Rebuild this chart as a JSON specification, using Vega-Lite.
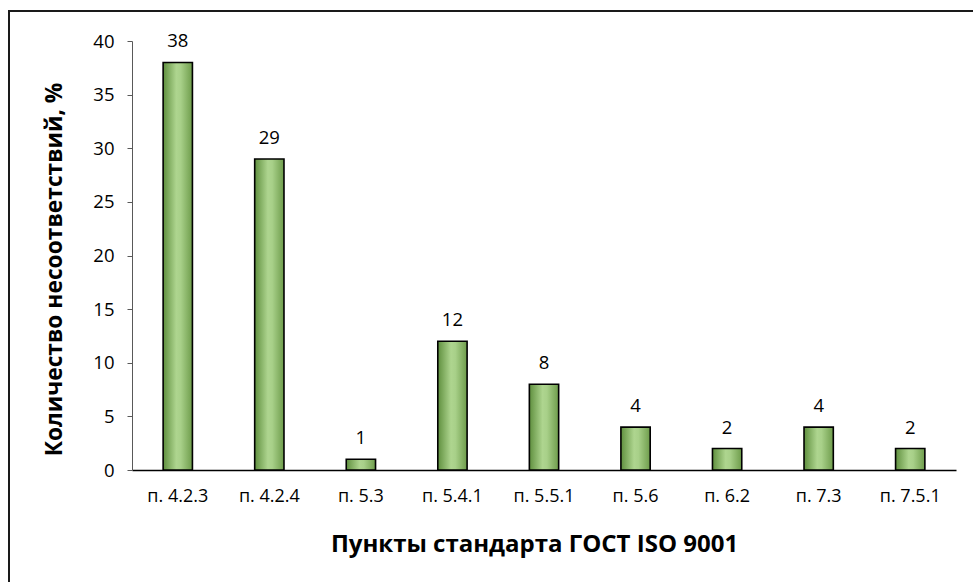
{
  "$schema": "https://vega.github.io/schema/vega-lite/v6.json",
  "width": 975,
  "height": 582,
  "autosize": "none",
  "padding": {"left": 9, "top": 11, "right": 0, "bottom": 0},
  "background": "white",
  "config": {
    "view": {"stroke": "#1a1a1a", "strokeWidth": 2},
    "font": "Open Sans",
    "axis": {"grid": false, "labelFont": "Open Sans", "titleFont": "Open Sans", "labelColor": "#000", "titleColor": "#000"}
  },
  "data": {
    "values": [
      {"p": "п. 4.2.3", "v": 38},
      {"p": "п. 4.2.4", "v": 29},
      {"p": "п. 5.3", "v": 1},
      {"p": "п. 5.4.1", "v": 12},
      {"p": "п. 5.5.1", "v": 8},
      {"p": "п. 5.6", "v": 4},
      {"p": "п. 6.2", "v": 2},
      {"p": "п. 7.3", "v": 4},
      {"p": "п. 7.5.1", "v": 2}
    ]
  },
  "encoding": {
    "x": {
      "field": "p", "type": "nominal", "sort": null,
      "scale": {"range": [123, 947], "paddingInner": 0.68, "paddingOuter": 0.34},
      "axis": {
        "title": "Пункты стандарта ГОСТ ISO 9001",
        "titleFontSize": 24, "titleFontWeight": "bold", "titlePadding": 27, "titleX": 525,
        "labelAngle": 0, "labelFontSize": 18, "labelPadding": 17,
        "ticks": false, "domainColor": "#000", "domainWidth": 1.5,
        "offset": -123
      }
    },
    "y": {
      "field": "v", "type": "quantitative",
      "scale": {"domain": [0, 40], "range": [459, 30], "nice": false, "zero": true},
      "axis": {
        "title": "Количество несоответствий, %",
        "titleFontSize": 22.8, "titleFontWeight": "bold", "titlePadding": 26, "titleY": 258,
        "values": [0, 5, 10, 15, 20, 25, 30, 35, 40],
        "labelFontSize": 18.5, "labelPadding": 13,
        "tickSize": 5, "tickColor": "#595959", "domainColor": "#595959", "domainWidth": 1,
        "offset": -123
      }
    }
  },
  "layer": [
    {
      "mark": {
        "type": "bar",
        "stroke": "#000",
        "strokeWidth": 1.6,
        "fill": {
          "gradient": "linear", "x1": 0, "y1": 0, "x2": 1, "y2": 0,
          "stops": [
            {"offset": 0, "color": "#5f8f3e"},
            {"offset": 0.45, "color": "#aed58f"},
            {"offset": 0.6, "color": "#a8d089"},
            {"offset": 1, "color": "#6e9c4b"}
          ]
        }
      }
    },
    {
      "mark": {"type": "text", "baseline": "bottom", "dy": -11, "fontSize": 18.5, "font": "Open Sans", "color": "#000"},
      "encoding": {"text": {"field": "v", "type": "quantitative"}}
    }
  ]
}
